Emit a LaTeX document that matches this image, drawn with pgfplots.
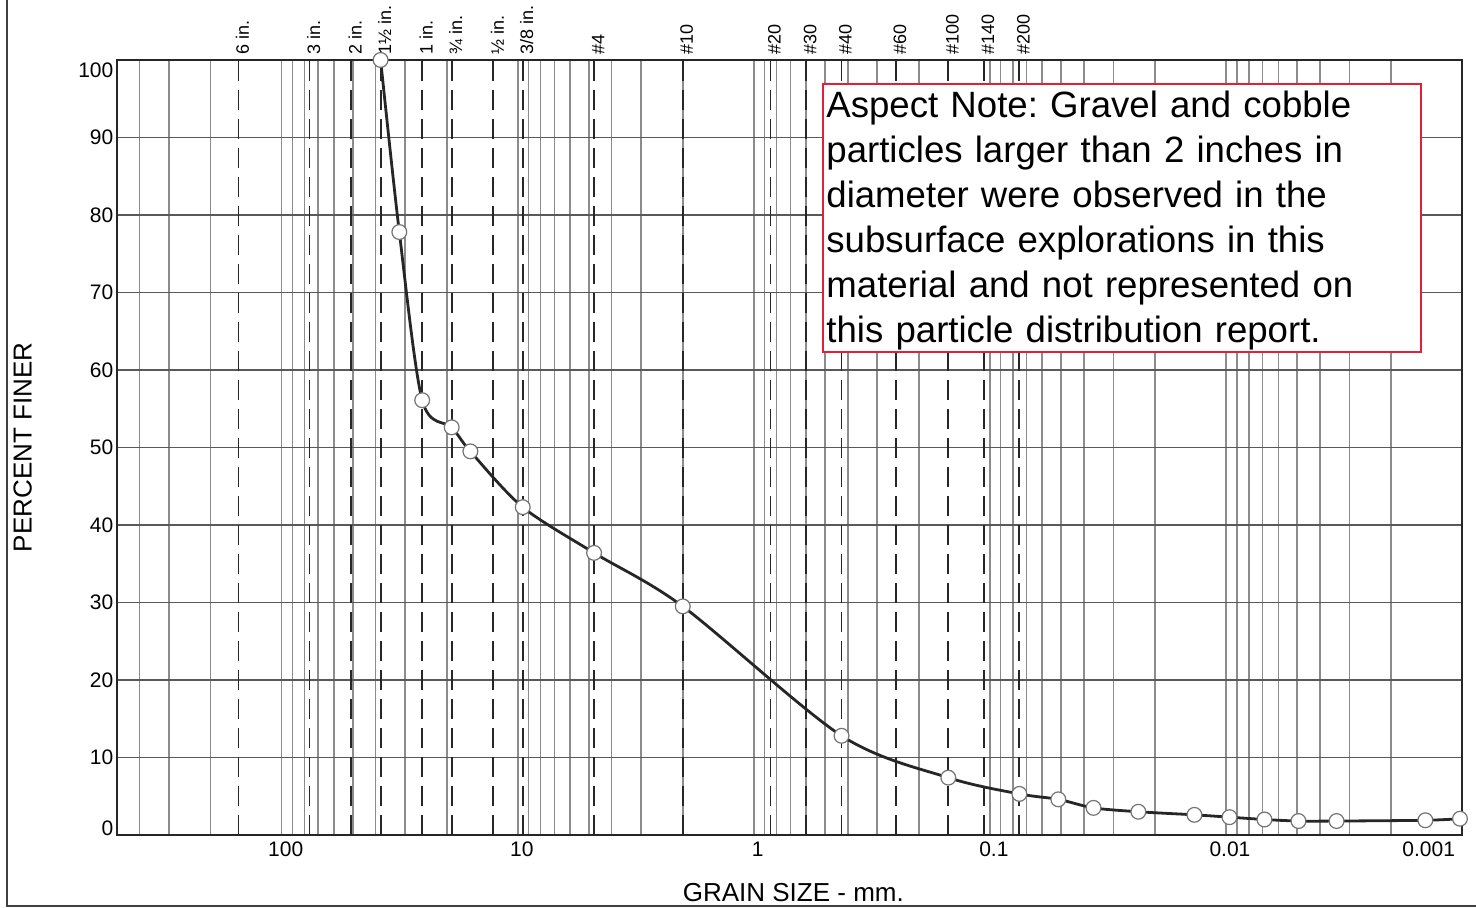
\documentclass[border=0pt]{standalone}
\usepackage{fontspec}
\setmainfont{Liberation Sans}
\usepackage{pgfplots}
\pgfplotsset{compat=1.18}

\definecolor{notered}{RGB}{226,30,58}

\begin{document}
\frenchspacing
\begin{tikzpicture}
\useasboundingbox (0,0) rectangle (738pt,454pt);
% sheet frame, only left and bottom edges show
\draw[black!75, line width=1pt] (3.5pt,460pt) -- (3.5pt,1pt) -- (745pt,1pt);
\begin{axis}[
  at={(58.35pt,36.5pt)}, anchor=south west,
  scale only axis, width=672.65pt, height=387.5pt,
  xmode=log, x dir=reverse,
  xmin=0.001, xmax=500, ymin=0, ymax=100,
  xtick={100,10,1,0.1,0.01},
  xticklabels={100,10,1,0.1,0.01},
  minor xtick={500,400,300,200,90,80,70,60,50,40,30,20,9,8,7,6,5,4,3,2,
    0.9,0.8,0.7,0.6,0.5,0.4,0.3,0.2,0.09,0.08,0.07,0.06,0.05,0.04,0.03,0.02,
    0.009,0.008,0.007,0.006,0.005,0.004,0.003,0.002},
  ytick={10,20,...,90},
  major tick length=0pt, minor tick length=0pt,
  grid=both,
  major x grid style={black!45, line width=0.8pt},
  minor x grid style={black!45, line width=0.8pt},
  major y grid style={black!65, line width=0.8pt},
  axis line style={black!85, line width=1pt},
  tick label style={font=\fontsize{10.5}{12}\selectfont},
  /pgf/number format/assume math mode=true,
  xticklabel style={xshift=2pt},
  yticklabel style={inner xsep=1.5pt},
  extra x ticks={152.4,76.2,50.8,38.1,25.4,19.05,12.7,9.525,4.75,2,0.85,0.6,0.425,0.25,0.15,0.106,0.075},
  extra x tick labels={6 in.,3 in.,2 in.,1½ in.,1 in.,¾ in.,½ in.,3/8 in.,\#4,\#10,\#20,\#30,\#40,\#60,\#100,\#140,\#200},
  extra x tick style={
    xticklabel pos=upper,
    xticklabel style={rotate=90, anchor=west, xshift=-1pt, font=\fontsize{9}{10}\selectfont},
    major x grid style={black!85, line width=0.9pt, dash pattern=on 10pt off 4.5pt}},
  xlabel={GRAIN SIZE - mm.},
  ylabel={PERCENT FINER},
  label style={font=\fontsize{13}{15}\selectfont},
  xlabel style={at={(axis description cs:0.5,0)}, anchor=center, yshift=-29pt, xshift=2pt},
  ylabel style={at={(axis description cs:-0.0699,0.5)}, anchor=center},
  clip=false,
]
\addplot[black!85, line width=1.4pt, smooth, mark=*, mark size=3.7pt,
  mark options={fill=white, draw=black!55, line width=0.6pt, solid}]
  coordinates {
  (38.1,100) (31.75,77.8) (25.4,56.1) (19.05,52.6) (15.875,49.5)
  (9.525,42.3) (4.75,36.4) (2.0,29.5) (0.425,12.8) (0.15,7.4)
  (0.075,5.3) (0.0513,4.6) (0.0364,3.5) (0.0235,3.0) (0.0136,2.6)
  (0.00966,2.3) (0.00687,2.0) (0.00493,1.8) (0.0034,1.8)
  (0.00143,1.9) (0.00102,2.1)
  };
% end labels of the axes, set off the corners as in the original sheet
\node[anchor=north east, font=\fontsize{10.5}{12}\selectfont] at (axis cs:0.001,0) {0.001};
\node[anchor=east, inner xsep=1.5pt, yshift=3.5pt, font=\fontsize{10.5}{12}\selectfont] at (axis cs:500,0) {0};
\node[anchor=east, inner xsep=1.5pt, yshift=-5pt, font=\fontsize{10.5}{12}\selectfont] at (axis cs:500,100) {100};
\end{axis}
% note box
\draw[notered, line width=1pt, fill=white] (411.5pt,412pt) rectangle (710.5pt,278pt);
\node[anchor=north west, inner sep=0pt, text width=295pt, align=left,
  font=\fontsize{18.3}{22.5}\selectfont] at (413pt,408.9pt)
  {Aspect Note: Gravel and cobble\\
   particles larger than 2 inches in\\
   diameter were observed in the\\
   subsurface explorations in this\\
   material and not represented on\\
   this particle distribution report.};
\end{tikzpicture}
\end{document}
